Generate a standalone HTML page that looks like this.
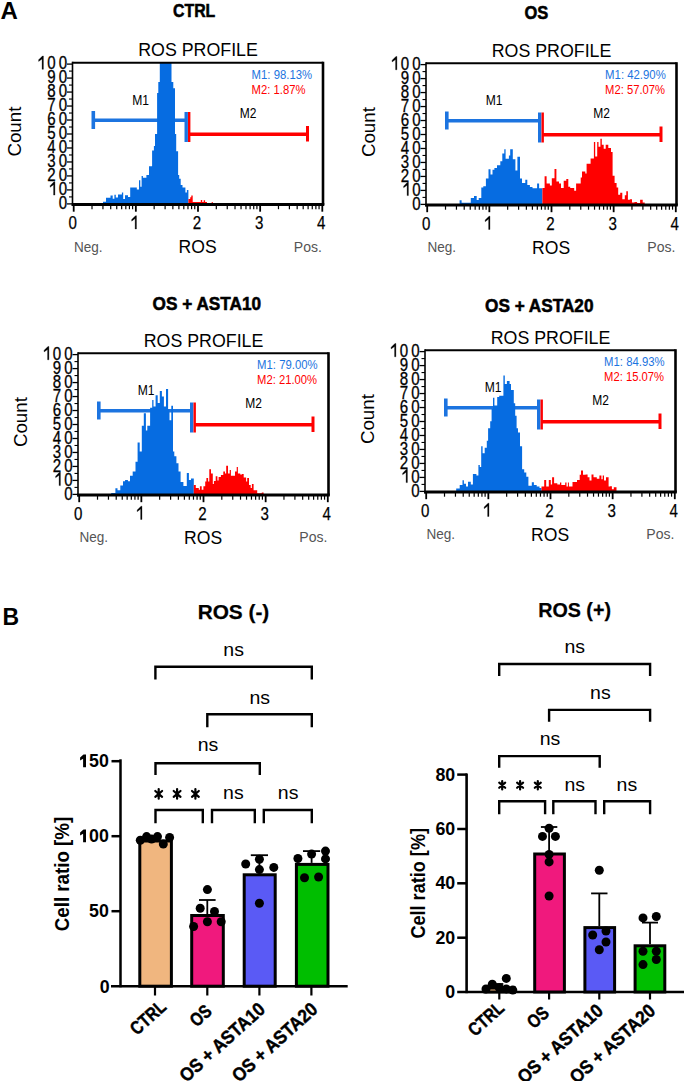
<!DOCTYPE html><html><head><meta charset="utf-8"><style>html,body{margin:0;padding:0;background:#fff;}svg{display:block;font-family:"Liberation Sans",sans-serif;}</style></head><body>
<svg width="685" height="1081" viewBox="0 0 685 1081">
<rect width="685" height="1081" fill="#fff"/>
<text x="0.6" y="18.6" font-size="24" font-weight="bold">A</text>
<text x="2.4" y="624.7" font-size="23" font-weight="bold">B</text>
<text x="173" y="16.9" font-size="18.2" font-weight="bold" textLength="42.3" lengthAdjust="spacingAndGlyphs" stroke="#000" stroke-width="0.55">CTRL</text>
<text x="524.5" y="18.9" font-size="18.2" font-weight="bold" textLength="23.8" lengthAdjust="spacingAndGlyphs" stroke="#000" stroke-width="0.55">OS</text>
<text x="152.6" y="310.4" font-size="18.2" font-weight="bold" textLength="108.5" lengthAdjust="spacingAndGlyphs" stroke="#000" stroke-width="0.55">OS + ASTA10</text>
<text x="485" y="312.1" font-size="18.2" font-weight="bold" textLength="108.5" lengthAdjust="spacingAndGlyphs" stroke="#000" stroke-width="0.55">OS + ASTA20</text>
<g transform="translate(0,0)">
<line x1="93" y1="120.2" x2="186" y2="120.2" stroke="#1c74e0" stroke-width="3.4"/>
<line x1="93.3" y1="111" x2="93.3" y2="129" stroke="#1c74e0" stroke-width="3.6"/>
<line x1="186.2" y1="112" x2="186.2" y2="142" stroke="#1c74e0" stroke-width="3.4"/>
<line x1="189" y1="134.2" x2="307.5" y2="134.2" stroke="#ff0000" stroke-width="3.4"/>
<line x1="189.2" y1="112" x2="189.2" y2="142" stroke="#ff0000" stroke-width="2.4"/>
<line x1="307.5" y1="126" x2="307.5" y2="141.5" stroke="#ff0000" stroke-width="3"/>
<text x="132.3" y="104.7" font-size="14.5" textLength="16.8" lengthAdjust="spacingAndGlyphs">M1</text>
<text x="239.8" y="117.6" font-size="14.5" textLength="16.7" lengthAdjust="spacingAndGlyphs">M2</text>
<text x="251.6" y="78.7" font-size="12.8" textLength="60.5" lengthAdjust="spacingAndGlyphs" fill="#1c74e0">M1: 98.13%</text>
<text x="251.6" y="93.5" font-size="12.8" textLength="54" lengthAdjust="spacingAndGlyphs" fill="#ff0000">M2: 1.87%</text>
</g>
<g transform="translate(353.5,0.5)">
<line x1="93" y1="120.2" x2="186" y2="120.2" stroke="#1c74e0" stroke-width="3.4"/>
<line x1="93.3" y1="111" x2="93.3" y2="129" stroke="#1c74e0" stroke-width="3.6"/>
<line x1="186.2" y1="112" x2="186.2" y2="142" stroke="#1c74e0" stroke-width="3.4"/>
<line x1="189" y1="134.2" x2="307.5" y2="134.2" stroke="#ff0000" stroke-width="3.4"/>
<line x1="189.2" y1="112" x2="189.2" y2="142" stroke="#ff0000" stroke-width="2.4"/>
<line x1="307.5" y1="126" x2="307.5" y2="141.5" stroke="#ff0000" stroke-width="3"/>
<text x="132.3" y="104.7" font-size="14.5" textLength="16.8" lengthAdjust="spacingAndGlyphs">M1</text>
<text x="239.8" y="117.6" font-size="14.5" textLength="16.7" lengthAdjust="spacingAndGlyphs">M2</text>
<text x="251.6" y="78.7" font-size="12.8" textLength="60.7" lengthAdjust="spacingAndGlyphs" fill="#1c74e0">M1: 42.90%</text>
<text x="251.6" y="93.5" font-size="12.8" textLength="60" lengthAdjust="spacingAndGlyphs" fill="#ff0000">M2: 57.07%</text>
</g>
<g transform="translate(5.5,290.5)">
<line x1="93" y1="120.2" x2="186" y2="120.2" stroke="#1c74e0" stroke-width="3.4"/>
<line x1="93.3" y1="111" x2="93.3" y2="129" stroke="#1c74e0" stroke-width="3.6"/>
<line x1="186.2" y1="112" x2="186.2" y2="142" stroke="#1c74e0" stroke-width="3.4"/>
<line x1="189" y1="134.2" x2="307.5" y2="134.2" stroke="#ff0000" stroke-width="3.4"/>
<line x1="189.2" y1="112" x2="189.2" y2="142" stroke="#ff0000" stroke-width="2.4"/>
<line x1="307.5" y1="126" x2="307.5" y2="141.5" stroke="#ff0000" stroke-width="3"/>
<text x="132.3" y="104.7" font-size="14.5" textLength="16.8" lengthAdjust="spacingAndGlyphs">M1</text>
<text x="239.8" y="117.6" font-size="14.5" textLength="16.7" lengthAdjust="spacingAndGlyphs">M2</text>
<text x="251.6" y="78.7" font-size="12.8" textLength="60.5" lengthAdjust="spacingAndGlyphs" fill="#1c74e0">M1: 79.00%</text>
<text x="251.6" y="93.5" font-size="12.8" textLength="60" lengthAdjust="spacingAndGlyphs" fill="#ff0000">M2: 21.00%</text>
</g>
<g transform="translate(352.5,287.5)">
<line x1="93" y1="120.2" x2="186" y2="120.2" stroke="#1c74e0" stroke-width="3.4"/>
<line x1="93.3" y1="111" x2="93.3" y2="129" stroke="#1c74e0" stroke-width="3.6"/>
<line x1="186.2" y1="112" x2="186.2" y2="142" stroke="#1c74e0" stroke-width="3.4"/>
<line x1="189" y1="134.2" x2="307.5" y2="134.2" stroke="#ff0000" stroke-width="3.4"/>
<line x1="189.2" y1="112" x2="189.2" y2="142" stroke="#ff0000" stroke-width="2.4"/>
<line x1="307.5" y1="126" x2="307.5" y2="141.5" stroke="#ff0000" stroke-width="3"/>
<text x="132.3" y="104.7" font-size="14.5" textLength="16.8" lengthAdjust="spacingAndGlyphs">M1</text>
<text x="239.8" y="117.6" font-size="14.5" textLength="16.7" lengthAdjust="spacingAndGlyphs">M2</text>
<text x="251.6" y="78.7" font-size="12.8" textLength="60.5" lengthAdjust="spacingAndGlyphs" fill="#1c74e0">M1: 84.93%</text>
<text x="251.6" y="93.5" font-size="12.8" textLength="60" lengthAdjust="spacingAndGlyphs" fill="#ff0000">M2: 15.07%</text>
</g>
<path d="M103,203.5L103,201.7L106,201.7L106,197.7L110.5,197.7L110.5,195.6L112.7,195.6L112.7,198.7L114.4,198.7L114.4,194.7L115.8,194.7L115.8,197.5L118,197.5L118,194.5L121.9,194.5L121.9,192.5L123.2,192.5L123.2,199.1L125,199.1L125,195.2L128,195.2L128,197L130.2,197L130.2,187.5L136.8,187.5L136.8,189.5L139,189.5L139,180.3L140.3,180.3L140.3,186.8L141.6,186.8L141.6,175.9L142.9,175.9L142.9,177.8L146.4,177.8L146.4,175L149,175L149,166.3L152.1,166.3L152.1,150.5L153.9,150.5L153.9,146.1L155,146.1L155,134L157.1,134L157.1,92.9L158.3,92.9L158.3,82L159.8,82L159.8,62.9L171.5,62.9L171.5,82L173.3,82L173.3,88.3L175,88.3L175,134L176.2,134L176.2,151.3L178.1,151.3L178.1,175L179.2,175L179.2,178.7L180.7,178.7L180.7,184.9L182.5,184.9L182.5,187.4L185.4,187.4L185.4,192.6L186.9,192.6L186.9,190L188.4,190L188.4,203.5Z" fill="#066ce1"/>
<path d="M188.4,203.5L188.4,199.1L190.2,199.1L190.2,197.3L191.3,197.3L191.3,195.5L192.7,195.5L192.7,202L200.8,202L200.8,199.9L202.2,199.9L202.2,202L203.7,202L203.7,200.2L205.1,200.2L205.1,202L207,202L207,203.5Z" fill="#ff0000"/>
<path d="M211.7,203.5L211.7,202L212.8,202L212.8,203.5Z" fill="#ff0000"/>
<path d="M459.6,204L459.6,200.3L461.6,200.3L461.6,202.7L470.8,202.7L470.8,198L474,198L474,196.1L476.7,196.1L476.7,200L478.7,200L478.7,198L481.3,198L481.3,187.6L483.3,187.6L483.3,186.2L485.9,186.2L485.9,178.4L488.5,178.4L488.5,169.2L490.5,169.2L490.5,174.4L492.5,174.4L492.5,169.8L494.4,169.8L494.4,167.9L497,167.9L497,165.2L500.3,165.2L500.3,161.3L502.3,161.3L502.3,153.4L504.3,153.4L504.3,149.2L505.6,149.2L505.6,158.7L508.9,158.7L508.9,155.4L510.2,155.4L510.2,149.2L512.8,149.2L512.8,159.3L515.4,159.3L515.4,170.5L517.4,170.5L517.4,156.7L520,156.7L520,178.4L522,178.4L522,183L525.3,183L525.3,179.7L527.3,179.7L527.3,184.9L529.9,184.9L529.9,186.9L532.5,186.9L532.5,188.2L537.1,188.2L537.1,183.6L539.1,183.6L539.1,188.2L542.4,188.2L542.4,204Z" fill="#066ce1"/>
<path d="M542.4,204L542.4,188.1L544.6,188.1L544.6,176.2L546.6,176.2L546.6,183.5L549.9,183.5L549.9,185.4L551.8,185.4L551.8,178.2L554.5,178.2L554.5,169L556.4,169L556.4,181.5L559,181.5L559,183.5L561,183.5L561,188.1L563.7,188.1L563.7,180.8L566.3,180.8L566.3,178.9L568.3,178.9L568.3,186.8L570.2,186.8L570.2,188.1L574.2,188.1L574.2,190.7L576.1,190.7L576.1,183.5L580.7,183.5L580.7,177.6L582,177.6L582,171.6L585.3,171.6L585.3,173.6L586.6,173.6L586.6,163.8L590.6,163.8L590.6,158.5L593.9,158.5L593.9,142.1L595.2,142.1L595.2,156.5L597.2,156.5L597.2,142.1L598.5,142.1L598.5,146.7L600.4,146.7L600.4,138.8L601.8,138.8L601.8,144.7L603.7,144.7L603.7,148.7L605.7,148.7L605.7,144.7L608.3,144.7L608.3,148L611,148L611,151.9L612.6,151.9L612.6,175.8L614.6,175.8L614.6,183L616.6,183L616.6,187.6L618.2,187.6L618.2,194.7L620.2,194.7L620.2,192.7L622.3,192.7L622.3,199.3L624.8,199.3L624.8,195.2L626.3,195.2L626.3,191.2L627.9,191.2L627.9,199.8L629.9,199.8L629.9,199.3L632,199.3L632,202.4L634.5,202.4L634.5,201.9L637.1,201.9L637.1,203L640.1,203L640.1,199.8L642.7,199.8L642.7,202.4L644.7,202.4L644.7,204Z" fill="#ff0000"/>
<path d="M111.2,494.5L111.2,493L115.4,493L115.4,488.2L117.5,488.2L117.5,490.3L120.3,490.3L120.3,485.4L123,485.4L123,481.2L125.1,481.2L125.1,479.9L127.9,479.9L127.9,481.2L130,481.2L130,475.7L132.7,475.7L132.7,471.5L135.5,471.5L135.5,461.8L137.6,461.8L137.6,442.4L139.7,442.4L139.7,451.4L141.8,451.4L141.8,425.8L143.8,425.8L143.8,413.3L145.9,413.3L145.9,430.6L147.3,430.6L147.3,425.8L150.1,425.8L150.1,407.7L152.2,407.7L152.2,400.1L153.5,400.1L153.5,406.4L155.6,406.4L155.6,395.3L157.7,395.3L157.7,402.9L159.8,402.9L159.8,391.1L161.9,391.1L161.9,396.6L163.9,396.6L163.9,406.4L166,406.4L166,389L168.1,389L168.1,409.1L169.5,409.1L169.5,420.2L171.3,420.2L171.3,405.7L173,405.7L173,451.4L174.3,451.4L174.3,456.3L176.4,456.3L176.4,463.2L178.5,463.2L178.5,471.5L180.6,471.5L180.6,481.9L183.4,481.9L183.4,486.1L186.8,486.1L186.8,472.9L188.9,472.9L188.9,479.9L191,479.9L191,478.5L193.8,478.5L193.8,494.5Z" fill="#066ce1"/>
<path d="M193.8,494.5L193.8,485L195.8,485L195.8,488L198.8,488L198.8,489.7L199.9,489.7L199.9,486.2L201.7,486.2L201.7,489.7L203.4,489.7L203.4,486.2L205.2,486.2L205.2,481.5L206.4,481.5L206.4,478L208.1,478L208.1,481.5L209.3,481.5L209.3,469.3L211,469.3L211,473.4L212.8,473.4L212.8,483.9L213.9,483.9L213.9,481L215.7,481L215.7,476.3L217.4,476.3L217.4,480.4L218.6,480.4L218.6,476.9L220.9,476.9L220.9,475.1L223.3,475.1L223.3,471.6L225,471.6L225,473.4L226.2,473.4L226.2,465.8L228,465.8L228,473.4L229.7,473.4L229.7,469.9L230.9,469.9L230.9,475.7L235,475.7L235,471.6L236.7,471.6L236.7,466.9L237.9,466.9L237.9,473.4L240.2,473.4L240.2,474.5L242,474.5L242,473.9L243.7,473.9L243.7,477.4L246.1,477.4L246.1,481.5L247.2,481.5L247.2,478L249,478L249,485L250.7,485L250.7,488L251.9,488L251.9,483.9L253.6,483.9L253.6,490.3L257.2,490.3L257.2,493.2L261.8,493.2L261.8,492.5L263.6,492.5L263.6,494.5Z" fill="#ff0000"/>
<path d="M456.2,491L456.2,488.6L459.7,488.6L459.7,485.1L462.5,485.1L462.5,480.3L463.9,480.3L463.9,483.7L466,483.7L466,486.5L468,486.5L468,481.7L470.8,481.7L470.8,484.4L472.9,484.4L472.9,474L476.4,474L476.4,475.4L478.4,475.4L478.4,465L479.8,465L479.8,467.1L481.2,467.1L481.2,446.3L482.6,446.3L482.6,453.2L484.7,453.2L484.7,447.7L486.8,447.7L486.8,440.7L488.1,440.7L488.1,428.3L490.2,428.3L490.2,421.3L491.6,421.3L491.6,408.8L493,408.8L493,397.7L494.4,397.7L494.4,405.4L497.2,405.4L497.2,397L499.2,397L499.2,395.7L503.4,395.7L503.4,375.5L504.8,375.5L504.8,383.9L506.9,383.9L506.9,381.1L509.6,381.1L509.6,383.9L511,383.9L511,390.1L513.8,390.1L513.8,403.3L515.2,403.3L515.2,415.8L516.6,415.8L516.6,428.3L518,428.3L518,432.4L520,432.4L520,446.3L522.1,446.3L522.1,469.2L524.2,469.2L524.2,472.6L526.3,472.6L526.3,476.8L528.4,476.8L528.4,485.8L531.8,485.8L531.8,482.3L533.9,482.3L533.9,485.1L536.7,485.1L536.7,486.5L539.5,486.5L539.5,487.9L541.5,487.9L541.5,491Z" fill="#066ce1"/>
<path d="M541.5,491L541.5,486.5L544.2,486.5L544.2,480L546.2,480L546.2,486.5L548.8,486.5L548.8,480L550.8,480L550.8,484.6L552.1,484.6L552.1,477.3L554.1,477.3L554.1,483.3L557.3,483.3L557.3,484.6L560,484.6L560,482.6L561.3,482.6L561.3,485L565.2,485L565.2,482.6L566.5,482.6L566.5,486.5L567.9,486.5L567.9,482.6L568.9,482.6L568.9,486.5L572.5,486.5L572.5,481.9L577,481.9L577,480L579.7,480L579.7,474.7L581,474.7L581,470.5L583,470.5L583,474.7L585.6,474.7L585.6,474.4L587.6,474.4L587.6,477.3L589.5,477.3L589.5,480.6L591.5,480.6L591.5,474.4L593.5,474.4L593.5,477.3L596.8,477.3L596.8,478.7L599.4,478.7L599.4,475.4L601.4,475.4L601.4,479.3L602.7,479.3L602.7,475.4L604,475.4L604,480.6L606,480.6L606,477.3L608.6,477.3L608.6,486.5L609.9,486.5L609.9,486.3L611.9,486.3L611.9,489.2L613.8,489.2L613.8,487.2L616.5,487.2L616.5,491Z" fill="#ff0000"/>
<g transform="translate(0,0)">
<text x="138.2" y="56" font-size="19.2" textLength="119.7" lengthAdjust="spacingAndGlyphs">ROS PROFILE</text>
<text transform="translate(21.1,131.6) rotate(-90)" font-size="18.6" text-anchor="middle" textLength="50" lengthAdjust="spacingAndGlyphs">Count</text>
<line x1="67" y1="203.90" x2="72.5" y2="203.90" stroke="#000" stroke-width="1.3"/>
<line x1="69" y1="196.91" x2="72.5" y2="196.91" stroke="#000" stroke-width="1.1"/>
<text transform="translate(70.3,209.10) scale(0.81,1)" font-size="18.6" text-anchor="end" letter-spacing="3.86" stroke="#000" stroke-width="0.3">0</text>
<line x1="67" y1="189.92" x2="72.5" y2="189.92" stroke="#000" stroke-width="1.3"/>
<line x1="69" y1="182.93" x2="72.5" y2="182.93" stroke="#000" stroke-width="1.1"/>
<polygon points="54.91,195.12 53.59,195.12 53.59,184.70 50.12,187.25 50.12,185.67 53.96,181.80 54.91,181.80" fill="#000" stroke="#000" stroke-width="0.3" stroke-linejoin="round"/>
<text transform="translate(70.3,195.12) scale(0.81,1)" font-size="18.6" text-anchor="end" letter-spacing="3.86" stroke="#000" stroke-width="0.3">0</text>
<line x1="67" y1="175.94" x2="72.5" y2="175.94" stroke="#000" stroke-width="1.3"/>
<line x1="69" y1="168.95" x2="72.5" y2="168.95" stroke="#000" stroke-width="1.1"/>
<text transform="translate(70.3,181.14) scale(0.81,1)" font-size="18.6" text-anchor="end" letter-spacing="3.86" stroke="#000" stroke-width="0.3">20</text>
<line x1="67" y1="161.96" x2="72.5" y2="161.96" stroke="#000" stroke-width="1.3"/>
<line x1="69" y1="154.97" x2="72.5" y2="154.97" stroke="#000" stroke-width="1.1"/>
<text transform="translate(70.3,167.16) scale(0.81,1)" font-size="18.6" text-anchor="end" letter-spacing="3.86" stroke="#000" stroke-width="0.3">30</text>
<line x1="67" y1="147.98" x2="72.5" y2="147.98" stroke="#000" stroke-width="1.3"/>
<line x1="69" y1="140.99" x2="72.5" y2="140.99" stroke="#000" stroke-width="1.1"/>
<text transform="translate(70.3,153.18) scale(0.81,1)" font-size="18.6" text-anchor="end" letter-spacing="3.86" stroke="#000" stroke-width="0.3">40</text>
<line x1="67" y1="134.00" x2="72.5" y2="134.00" stroke="#000" stroke-width="1.3"/>
<line x1="69" y1="127.01" x2="72.5" y2="127.01" stroke="#000" stroke-width="1.1"/>
<text transform="translate(70.3,139.20) scale(0.81,1)" font-size="18.6" text-anchor="end" letter-spacing="3.86" stroke="#000" stroke-width="0.3">50</text>
<line x1="67" y1="120.02" x2="72.5" y2="120.02" stroke="#000" stroke-width="1.3"/>
<line x1="69" y1="113.03" x2="72.5" y2="113.03" stroke="#000" stroke-width="1.1"/>
<text transform="translate(70.3,125.22) scale(0.81,1)" font-size="18.6" text-anchor="end" letter-spacing="3.86" stroke="#000" stroke-width="0.3">60</text>
<line x1="67" y1="106.04" x2="72.5" y2="106.04" stroke="#000" stroke-width="1.3"/>
<line x1="69" y1="99.05" x2="72.5" y2="99.05" stroke="#000" stroke-width="1.1"/>
<text transform="translate(70.3,111.24) scale(0.81,1)" font-size="18.6" text-anchor="end" letter-spacing="3.86" stroke="#000" stroke-width="0.3">70</text>
<line x1="67" y1="92.06" x2="72.5" y2="92.06" stroke="#000" stroke-width="1.3"/>
<line x1="69" y1="85.07" x2="72.5" y2="85.07" stroke="#000" stroke-width="1.1"/>
<text transform="translate(70.3,97.26) scale(0.81,1)" font-size="18.6" text-anchor="end" letter-spacing="3.86" stroke="#000" stroke-width="0.3">80</text>
<line x1="67" y1="78.08" x2="72.5" y2="78.08" stroke="#000" stroke-width="1.3"/>
<line x1="69" y1="71.09" x2="72.5" y2="71.09" stroke="#000" stroke-width="1.1"/>
<text transform="translate(70.3,83.28) scale(0.81,1)" font-size="18.6" text-anchor="end" letter-spacing="3.86" stroke="#000" stroke-width="0.3">90</text>
<line x1="67" y1="64.10" x2="72.5" y2="64.10" stroke="#000" stroke-width="1.3"/>
<polygon points="43.41,69.30 42.08,69.30 42.08,58.88 38.62,61.43 38.62,59.85 42.46,55.98 43.41,55.98" fill="#000" stroke="#000" stroke-width="0.3" stroke-linejoin="round"/>
<text transform="translate(70.3,69.30) scale(0.81,1)" font-size="18.6" text-anchor="end" letter-spacing="3.86" stroke="#000" stroke-width="0.3">00</text>
<line x1="73.70" y1="205" x2="73.70" y2="211.7" stroke="#000" stroke-width="1.8"/>
<text x="72.70" y="229" font-size="18.6" text-anchor="middle" textLength="8.4" lengthAdjust="spacingAndGlyphs" stroke="#000" stroke-width="0.25">0</text>
<line x1="92.01" y1="205" x2="92.01" y2="209.2" stroke="#000" stroke-width="1.2"/>
<line x1="102.95" y1="205" x2="102.95" y2="209.2" stroke="#000" stroke-width="1.2"/>
<line x1="110.72" y1="205" x2="110.72" y2="209.2" stroke="#000" stroke-width="1.2"/>
<line x1="116.74" y1="205" x2="116.74" y2="209.2" stroke="#000" stroke-width="1.2"/>
<line x1="121.66" y1="205" x2="121.66" y2="209.2" stroke="#000" stroke-width="1.2"/>
<line x1="125.82" y1="205" x2="125.82" y2="209.2" stroke="#000" stroke-width="1.2"/>
<line x1="129.43" y1="205" x2="129.43" y2="209.2" stroke="#000" stroke-width="1.2"/>
<line x1="132.61" y1="205" x2="132.61" y2="209.2" stroke="#000" stroke-width="1.2"/>
<line x1="135.85" y1="205" x2="135.85" y2="211.7" stroke="#000" stroke-width="1.8"/>
<polygon points="136.47,229.00 135.14,229.00 135.14,218.58 131.68,221.13 131.68,219.55 135.52,215.68 136.47,215.68" fill="#000" stroke="#000" stroke-width="0.3" stroke-linejoin="round"/>
<line x1="154.16" y1="205" x2="154.16" y2="209.2" stroke="#000" stroke-width="1.2"/>
<line x1="165.10" y1="205" x2="165.10" y2="209.2" stroke="#000" stroke-width="1.2"/>
<line x1="172.87" y1="205" x2="172.87" y2="209.2" stroke="#000" stroke-width="1.2"/>
<line x1="178.89" y1="205" x2="178.89" y2="209.2" stroke="#000" stroke-width="1.2"/>
<line x1="183.81" y1="205" x2="183.81" y2="209.2" stroke="#000" stroke-width="1.2"/>
<line x1="187.97" y1="205" x2="187.97" y2="209.2" stroke="#000" stroke-width="1.2"/>
<line x1="191.58" y1="205" x2="191.58" y2="209.2" stroke="#000" stroke-width="1.2"/>
<line x1="194.76" y1="205" x2="194.76" y2="209.2" stroke="#000" stroke-width="1.2"/>
<line x1="198.00" y1="205" x2="198.00" y2="211.7" stroke="#000" stroke-width="1.8"/>
<text x="197.00" y="229" font-size="18.6" text-anchor="middle" textLength="8.4" lengthAdjust="spacingAndGlyphs" stroke="#000" stroke-width="0.25">2</text>
<line x1="216.31" y1="205" x2="216.31" y2="209.2" stroke="#000" stroke-width="1.2"/>
<line x1="227.25" y1="205" x2="227.25" y2="209.2" stroke="#000" stroke-width="1.2"/>
<line x1="235.02" y1="205" x2="235.02" y2="209.2" stroke="#000" stroke-width="1.2"/>
<line x1="241.04" y1="205" x2="241.04" y2="209.2" stroke="#000" stroke-width="1.2"/>
<line x1="245.96" y1="205" x2="245.96" y2="209.2" stroke="#000" stroke-width="1.2"/>
<line x1="250.12" y1="205" x2="250.12" y2="209.2" stroke="#000" stroke-width="1.2"/>
<line x1="253.73" y1="205" x2="253.73" y2="209.2" stroke="#000" stroke-width="1.2"/>
<line x1="256.91" y1="205" x2="256.91" y2="209.2" stroke="#000" stroke-width="1.2"/>
<line x1="260.15" y1="205" x2="260.15" y2="211.7" stroke="#000" stroke-width="1.8"/>
<text x="259.15" y="229" font-size="18.6" text-anchor="middle" textLength="8.4" lengthAdjust="spacingAndGlyphs" stroke="#000" stroke-width="0.25">3</text>
<line x1="278.46" y1="205" x2="278.46" y2="209.2" stroke="#000" stroke-width="1.2"/>
<line x1="289.40" y1="205" x2="289.40" y2="209.2" stroke="#000" stroke-width="1.2"/>
<line x1="297.17" y1="205" x2="297.17" y2="209.2" stroke="#000" stroke-width="1.2"/>
<line x1="303.19" y1="205" x2="303.19" y2="209.2" stroke="#000" stroke-width="1.2"/>
<line x1="308.11" y1="205" x2="308.11" y2="209.2" stroke="#000" stroke-width="1.2"/>
<line x1="312.27" y1="205" x2="312.27" y2="209.2" stroke="#000" stroke-width="1.2"/>
<line x1="315.88" y1="205" x2="315.88" y2="209.2" stroke="#000" stroke-width="1.2"/>
<line x1="319.06" y1="205" x2="319.06" y2="209.2" stroke="#000" stroke-width="1.2"/>
<line x1="322.30" y1="205" x2="322.30" y2="211.7" stroke="#000" stroke-width="1.8"/>
<text x="321.30" y="229" font-size="18.6" text-anchor="middle" textLength="8.4" lengthAdjust="spacingAndGlyphs" stroke="#000" stroke-width="0.25">4</text>
<text x="73.9" y="251.5" font-size="14" textLength="28.6" lengthAdjust="spacingAndGlyphs" fill="#555">Neg.</text>
<text x="178.6" y="253.3" font-size="18" textLength="38.1" lengthAdjust="spacingAndGlyphs">ROS</text>
<text x="293.8" y="251.9" font-size="14" textLength="28.1" lengthAdjust="spacingAndGlyphs" fill="#555">Pos.</text>
<line x1="72.5" y1="62.7" x2="323" y2="62.7" stroke="#000" stroke-width="2"/>
<line x1="323" y1="61.7" x2="323" y2="205" stroke="#000" stroke-width="2.6"/>
<line x1="72.5" y1="61.7" x2="72.5" y2="206" stroke="#000" stroke-width="1.6"/>
<line x1="71.7" y1="204.6" x2="324.3" y2="204.6" stroke="#000" stroke-width="3"/>
</g>
<g transform="translate(353.5,0.5)">
<text x="138.2" y="56" font-size="19.2" textLength="119.7" lengthAdjust="spacingAndGlyphs">ROS PROFILE</text>
<text transform="translate(21.1,131.6) rotate(-90)" font-size="18.6" text-anchor="middle" textLength="50" lengthAdjust="spacingAndGlyphs">Count</text>
<line x1="67" y1="203.90" x2="72.5" y2="203.90" stroke="#000" stroke-width="1.3"/>
<line x1="69" y1="196.91" x2="72.5" y2="196.91" stroke="#000" stroke-width="1.1"/>
<text transform="translate(70.3,209.10) scale(0.81,1)" font-size="18.6" text-anchor="end" letter-spacing="3.86" stroke="#000" stroke-width="0.3">0</text>
<line x1="67" y1="189.92" x2="72.5" y2="189.92" stroke="#000" stroke-width="1.3"/>
<line x1="69" y1="182.93" x2="72.5" y2="182.93" stroke="#000" stroke-width="1.1"/>
<polygon points="54.91,195.12 53.59,195.12 53.59,184.70 50.12,187.25 50.12,185.67 53.96,181.80 54.91,181.80" fill="#000" stroke="#000" stroke-width="0.3" stroke-linejoin="round"/>
<text transform="translate(70.3,195.12) scale(0.81,1)" font-size="18.6" text-anchor="end" letter-spacing="3.86" stroke="#000" stroke-width="0.3">0</text>
<line x1="67" y1="175.94" x2="72.5" y2="175.94" stroke="#000" stroke-width="1.3"/>
<line x1="69" y1="168.95" x2="72.5" y2="168.95" stroke="#000" stroke-width="1.1"/>
<text transform="translate(70.3,181.14) scale(0.81,1)" font-size="18.6" text-anchor="end" letter-spacing="3.86" stroke="#000" stroke-width="0.3">20</text>
<line x1="67" y1="161.96" x2="72.5" y2="161.96" stroke="#000" stroke-width="1.3"/>
<line x1="69" y1="154.97" x2="72.5" y2="154.97" stroke="#000" stroke-width="1.1"/>
<text transform="translate(70.3,167.16) scale(0.81,1)" font-size="18.6" text-anchor="end" letter-spacing="3.86" stroke="#000" stroke-width="0.3">30</text>
<line x1="67" y1="147.98" x2="72.5" y2="147.98" stroke="#000" stroke-width="1.3"/>
<line x1="69" y1="140.99" x2="72.5" y2="140.99" stroke="#000" stroke-width="1.1"/>
<text transform="translate(70.3,153.18) scale(0.81,1)" font-size="18.6" text-anchor="end" letter-spacing="3.86" stroke="#000" stroke-width="0.3">40</text>
<line x1="67" y1="134.00" x2="72.5" y2="134.00" stroke="#000" stroke-width="1.3"/>
<line x1="69" y1="127.01" x2="72.5" y2="127.01" stroke="#000" stroke-width="1.1"/>
<text transform="translate(70.3,139.20) scale(0.81,1)" font-size="18.6" text-anchor="end" letter-spacing="3.86" stroke="#000" stroke-width="0.3">50</text>
<line x1="67" y1="120.02" x2="72.5" y2="120.02" stroke="#000" stroke-width="1.3"/>
<line x1="69" y1="113.03" x2="72.5" y2="113.03" stroke="#000" stroke-width="1.1"/>
<text transform="translate(70.3,125.22) scale(0.81,1)" font-size="18.6" text-anchor="end" letter-spacing="3.86" stroke="#000" stroke-width="0.3">60</text>
<line x1="67" y1="106.04" x2="72.5" y2="106.04" stroke="#000" stroke-width="1.3"/>
<line x1="69" y1="99.05" x2="72.5" y2="99.05" stroke="#000" stroke-width="1.1"/>
<text transform="translate(70.3,111.24) scale(0.81,1)" font-size="18.6" text-anchor="end" letter-spacing="3.86" stroke="#000" stroke-width="0.3">70</text>
<line x1="67" y1="92.06" x2="72.5" y2="92.06" stroke="#000" stroke-width="1.3"/>
<line x1="69" y1="85.07" x2="72.5" y2="85.07" stroke="#000" stroke-width="1.1"/>
<text transform="translate(70.3,97.26) scale(0.81,1)" font-size="18.6" text-anchor="end" letter-spacing="3.86" stroke="#000" stroke-width="0.3">80</text>
<line x1="67" y1="78.08" x2="72.5" y2="78.08" stroke="#000" stroke-width="1.3"/>
<line x1="69" y1="71.09" x2="72.5" y2="71.09" stroke="#000" stroke-width="1.1"/>
<text transform="translate(70.3,83.28) scale(0.81,1)" font-size="18.6" text-anchor="end" letter-spacing="3.86" stroke="#000" stroke-width="0.3">90</text>
<line x1="67" y1="64.10" x2="72.5" y2="64.10" stroke="#000" stroke-width="1.3"/>
<polygon points="43.41,69.30 42.08,69.30 42.08,58.88 38.62,61.43 38.62,59.85 42.46,55.98 43.41,55.98" fill="#000" stroke="#000" stroke-width="0.3" stroke-linejoin="round"/>
<text transform="translate(70.3,69.30) scale(0.81,1)" font-size="18.6" text-anchor="end" letter-spacing="3.86" stroke="#000" stroke-width="0.3">00</text>
<line x1="73.70" y1="205" x2="73.70" y2="211.7" stroke="#000" stroke-width="1.8"/>
<text x="72.70" y="229" font-size="18.6" text-anchor="middle" textLength="8.4" lengthAdjust="spacingAndGlyphs" stroke="#000" stroke-width="0.25">0</text>
<line x1="92.01" y1="205" x2="92.01" y2="209.2" stroke="#000" stroke-width="1.2"/>
<line x1="102.95" y1="205" x2="102.95" y2="209.2" stroke="#000" stroke-width="1.2"/>
<line x1="110.72" y1="205" x2="110.72" y2="209.2" stroke="#000" stroke-width="1.2"/>
<line x1="116.74" y1="205" x2="116.74" y2="209.2" stroke="#000" stroke-width="1.2"/>
<line x1="121.66" y1="205" x2="121.66" y2="209.2" stroke="#000" stroke-width="1.2"/>
<line x1="125.82" y1="205" x2="125.82" y2="209.2" stroke="#000" stroke-width="1.2"/>
<line x1="129.43" y1="205" x2="129.43" y2="209.2" stroke="#000" stroke-width="1.2"/>
<line x1="132.61" y1="205" x2="132.61" y2="209.2" stroke="#000" stroke-width="1.2"/>
<line x1="135.85" y1="205" x2="135.85" y2="211.7" stroke="#000" stroke-width="1.8"/>
<polygon points="136.47,229.00 135.14,229.00 135.14,218.58 131.68,221.13 131.68,219.55 135.52,215.68 136.47,215.68" fill="#000" stroke="#000" stroke-width="0.3" stroke-linejoin="round"/>
<line x1="154.16" y1="205" x2="154.16" y2="209.2" stroke="#000" stroke-width="1.2"/>
<line x1="165.10" y1="205" x2="165.10" y2="209.2" stroke="#000" stroke-width="1.2"/>
<line x1="172.87" y1="205" x2="172.87" y2="209.2" stroke="#000" stroke-width="1.2"/>
<line x1="178.89" y1="205" x2="178.89" y2="209.2" stroke="#000" stroke-width="1.2"/>
<line x1="183.81" y1="205" x2="183.81" y2="209.2" stroke="#000" stroke-width="1.2"/>
<line x1="187.97" y1="205" x2="187.97" y2="209.2" stroke="#000" stroke-width="1.2"/>
<line x1="191.58" y1="205" x2="191.58" y2="209.2" stroke="#000" stroke-width="1.2"/>
<line x1="194.76" y1="205" x2="194.76" y2="209.2" stroke="#000" stroke-width="1.2"/>
<line x1="198.00" y1="205" x2="198.00" y2="211.7" stroke="#000" stroke-width="1.8"/>
<text x="197.00" y="229" font-size="18.6" text-anchor="middle" textLength="8.4" lengthAdjust="spacingAndGlyphs" stroke="#000" stroke-width="0.25">2</text>
<line x1="216.31" y1="205" x2="216.31" y2="209.2" stroke="#000" stroke-width="1.2"/>
<line x1="227.25" y1="205" x2="227.25" y2="209.2" stroke="#000" stroke-width="1.2"/>
<line x1="235.02" y1="205" x2="235.02" y2="209.2" stroke="#000" stroke-width="1.2"/>
<line x1="241.04" y1="205" x2="241.04" y2="209.2" stroke="#000" stroke-width="1.2"/>
<line x1="245.96" y1="205" x2="245.96" y2="209.2" stroke="#000" stroke-width="1.2"/>
<line x1="250.12" y1="205" x2="250.12" y2="209.2" stroke="#000" stroke-width="1.2"/>
<line x1="253.73" y1="205" x2="253.73" y2="209.2" stroke="#000" stroke-width="1.2"/>
<line x1="256.91" y1="205" x2="256.91" y2="209.2" stroke="#000" stroke-width="1.2"/>
<line x1="260.15" y1="205" x2="260.15" y2="211.7" stroke="#000" stroke-width="1.8"/>
<text x="259.15" y="229" font-size="18.6" text-anchor="middle" textLength="8.4" lengthAdjust="spacingAndGlyphs" stroke="#000" stroke-width="0.25">3</text>
<line x1="278.46" y1="205" x2="278.46" y2="209.2" stroke="#000" stroke-width="1.2"/>
<line x1="289.40" y1="205" x2="289.40" y2="209.2" stroke="#000" stroke-width="1.2"/>
<line x1="297.17" y1="205" x2="297.17" y2="209.2" stroke="#000" stroke-width="1.2"/>
<line x1="303.19" y1="205" x2="303.19" y2="209.2" stroke="#000" stroke-width="1.2"/>
<line x1="308.11" y1="205" x2="308.11" y2="209.2" stroke="#000" stroke-width="1.2"/>
<line x1="312.27" y1="205" x2="312.27" y2="209.2" stroke="#000" stroke-width="1.2"/>
<line x1="315.88" y1="205" x2="315.88" y2="209.2" stroke="#000" stroke-width="1.2"/>
<line x1="319.06" y1="205" x2="319.06" y2="209.2" stroke="#000" stroke-width="1.2"/>
<line x1="322.30" y1="205" x2="322.30" y2="211.7" stroke="#000" stroke-width="1.8"/>
<text x="321.30" y="229" font-size="18.6" text-anchor="middle" textLength="8.4" lengthAdjust="spacingAndGlyphs" stroke="#000" stroke-width="0.25">4</text>
<text x="73.9" y="251.5" font-size="14" textLength="28.6" lengthAdjust="spacingAndGlyphs" fill="#555">Neg.</text>
<text x="178.6" y="253.3" font-size="18" textLength="38.1" lengthAdjust="spacingAndGlyphs">ROS</text>
<text x="293.8" y="251.9" font-size="14" textLength="28.1" lengthAdjust="spacingAndGlyphs" fill="#555">Pos.</text>
<line x1="72.5" y1="62.7" x2="323" y2="62.7" stroke="#000" stroke-width="2"/>
<line x1="323" y1="61.7" x2="323" y2="205" stroke="#000" stroke-width="2.6"/>
<line x1="72.5" y1="61.7" x2="72.5" y2="206" stroke="#000" stroke-width="1.6"/>
<line x1="71.7" y1="204.6" x2="324.3" y2="204.6" stroke="#000" stroke-width="3"/>
</g>
<g transform="translate(5.5,290.5)">
<text x="138.2" y="56" font-size="19.2" textLength="119.7" lengthAdjust="spacingAndGlyphs">ROS PROFILE</text>
<text transform="translate(21.1,131.6) rotate(-90)" font-size="18.6" text-anchor="middle" textLength="50" lengthAdjust="spacingAndGlyphs">Count</text>
<line x1="67" y1="203.90" x2="72.5" y2="203.90" stroke="#000" stroke-width="1.3"/>
<line x1="69" y1="196.91" x2="72.5" y2="196.91" stroke="#000" stroke-width="1.1"/>
<text transform="translate(70.3,209.10) scale(0.81,1)" font-size="18.6" text-anchor="end" letter-spacing="3.86" stroke="#000" stroke-width="0.3">0</text>
<line x1="67" y1="189.92" x2="72.5" y2="189.92" stroke="#000" stroke-width="1.3"/>
<line x1="69" y1="182.93" x2="72.5" y2="182.93" stroke="#000" stroke-width="1.1"/>
<polygon points="54.91,195.12 53.59,195.12 53.59,184.70 50.12,187.25 50.12,185.67 53.96,181.80 54.91,181.80" fill="#000" stroke="#000" stroke-width="0.3" stroke-linejoin="round"/>
<text transform="translate(70.3,195.12) scale(0.81,1)" font-size="18.6" text-anchor="end" letter-spacing="3.86" stroke="#000" stroke-width="0.3">0</text>
<line x1="67" y1="175.94" x2="72.5" y2="175.94" stroke="#000" stroke-width="1.3"/>
<line x1="69" y1="168.95" x2="72.5" y2="168.95" stroke="#000" stroke-width="1.1"/>
<text transform="translate(70.3,181.14) scale(0.81,1)" font-size="18.6" text-anchor="end" letter-spacing="3.86" stroke="#000" stroke-width="0.3">20</text>
<line x1="67" y1="161.96" x2="72.5" y2="161.96" stroke="#000" stroke-width="1.3"/>
<line x1="69" y1="154.97" x2="72.5" y2="154.97" stroke="#000" stroke-width="1.1"/>
<text transform="translate(70.3,167.16) scale(0.81,1)" font-size="18.6" text-anchor="end" letter-spacing="3.86" stroke="#000" stroke-width="0.3">30</text>
<line x1="67" y1="147.98" x2="72.5" y2="147.98" stroke="#000" stroke-width="1.3"/>
<line x1="69" y1="140.99" x2="72.5" y2="140.99" stroke="#000" stroke-width="1.1"/>
<text transform="translate(70.3,153.18) scale(0.81,1)" font-size="18.6" text-anchor="end" letter-spacing="3.86" stroke="#000" stroke-width="0.3">40</text>
<line x1="67" y1="134.00" x2="72.5" y2="134.00" stroke="#000" stroke-width="1.3"/>
<line x1="69" y1="127.01" x2="72.5" y2="127.01" stroke="#000" stroke-width="1.1"/>
<text transform="translate(70.3,139.20) scale(0.81,1)" font-size="18.6" text-anchor="end" letter-spacing="3.86" stroke="#000" stroke-width="0.3">50</text>
<line x1="67" y1="120.02" x2="72.5" y2="120.02" stroke="#000" stroke-width="1.3"/>
<line x1="69" y1="113.03" x2="72.5" y2="113.03" stroke="#000" stroke-width="1.1"/>
<text transform="translate(70.3,125.22) scale(0.81,1)" font-size="18.6" text-anchor="end" letter-spacing="3.86" stroke="#000" stroke-width="0.3">60</text>
<line x1="67" y1="106.04" x2="72.5" y2="106.04" stroke="#000" stroke-width="1.3"/>
<line x1="69" y1="99.05" x2="72.5" y2="99.05" stroke="#000" stroke-width="1.1"/>
<text transform="translate(70.3,111.24) scale(0.81,1)" font-size="18.6" text-anchor="end" letter-spacing="3.86" stroke="#000" stroke-width="0.3">70</text>
<line x1="67" y1="92.06" x2="72.5" y2="92.06" stroke="#000" stroke-width="1.3"/>
<line x1="69" y1="85.07" x2="72.5" y2="85.07" stroke="#000" stroke-width="1.1"/>
<text transform="translate(70.3,97.26) scale(0.81,1)" font-size="18.6" text-anchor="end" letter-spacing="3.86" stroke="#000" stroke-width="0.3">80</text>
<line x1="67" y1="78.08" x2="72.5" y2="78.08" stroke="#000" stroke-width="1.3"/>
<line x1="69" y1="71.09" x2="72.5" y2="71.09" stroke="#000" stroke-width="1.1"/>
<text transform="translate(70.3,83.28) scale(0.81,1)" font-size="18.6" text-anchor="end" letter-spacing="3.86" stroke="#000" stroke-width="0.3">90</text>
<line x1="67" y1="64.10" x2="72.5" y2="64.10" stroke="#000" stroke-width="1.3"/>
<polygon points="43.41,69.30 42.08,69.30 42.08,58.88 38.62,61.43 38.62,59.85 42.46,55.98 43.41,55.98" fill="#000" stroke="#000" stroke-width="0.3" stroke-linejoin="round"/>
<text transform="translate(70.3,69.30) scale(0.81,1)" font-size="18.6" text-anchor="end" letter-spacing="3.86" stroke="#000" stroke-width="0.3">00</text>
<line x1="73.70" y1="205" x2="73.70" y2="211.7" stroke="#000" stroke-width="1.8"/>
<text x="72.70" y="229" font-size="18.6" text-anchor="middle" textLength="8.4" lengthAdjust="spacingAndGlyphs" stroke="#000" stroke-width="0.25">0</text>
<line x1="92.01" y1="205" x2="92.01" y2="209.2" stroke="#000" stroke-width="1.2"/>
<line x1="102.95" y1="205" x2="102.95" y2="209.2" stroke="#000" stroke-width="1.2"/>
<line x1="110.72" y1="205" x2="110.72" y2="209.2" stroke="#000" stroke-width="1.2"/>
<line x1="116.74" y1="205" x2="116.74" y2="209.2" stroke="#000" stroke-width="1.2"/>
<line x1="121.66" y1="205" x2="121.66" y2="209.2" stroke="#000" stroke-width="1.2"/>
<line x1="125.82" y1="205" x2="125.82" y2="209.2" stroke="#000" stroke-width="1.2"/>
<line x1="129.43" y1="205" x2="129.43" y2="209.2" stroke="#000" stroke-width="1.2"/>
<line x1="132.61" y1="205" x2="132.61" y2="209.2" stroke="#000" stroke-width="1.2"/>
<line x1="135.85" y1="205" x2="135.85" y2="211.7" stroke="#000" stroke-width="1.8"/>
<polygon points="136.47,229.00 135.14,229.00 135.14,218.58 131.68,221.13 131.68,219.55 135.52,215.68 136.47,215.68" fill="#000" stroke="#000" stroke-width="0.3" stroke-linejoin="round"/>
<line x1="154.16" y1="205" x2="154.16" y2="209.2" stroke="#000" stroke-width="1.2"/>
<line x1="165.10" y1="205" x2="165.10" y2="209.2" stroke="#000" stroke-width="1.2"/>
<line x1="172.87" y1="205" x2="172.87" y2="209.2" stroke="#000" stroke-width="1.2"/>
<line x1="178.89" y1="205" x2="178.89" y2="209.2" stroke="#000" stroke-width="1.2"/>
<line x1="183.81" y1="205" x2="183.81" y2="209.2" stroke="#000" stroke-width="1.2"/>
<line x1="187.97" y1="205" x2="187.97" y2="209.2" stroke="#000" stroke-width="1.2"/>
<line x1="191.58" y1="205" x2="191.58" y2="209.2" stroke="#000" stroke-width="1.2"/>
<line x1="194.76" y1="205" x2="194.76" y2="209.2" stroke="#000" stroke-width="1.2"/>
<line x1="198.00" y1="205" x2="198.00" y2="211.7" stroke="#000" stroke-width="1.8"/>
<text x="197.00" y="229" font-size="18.6" text-anchor="middle" textLength="8.4" lengthAdjust="spacingAndGlyphs" stroke="#000" stroke-width="0.25">2</text>
<line x1="216.31" y1="205" x2="216.31" y2="209.2" stroke="#000" stroke-width="1.2"/>
<line x1="227.25" y1="205" x2="227.25" y2="209.2" stroke="#000" stroke-width="1.2"/>
<line x1="235.02" y1="205" x2="235.02" y2="209.2" stroke="#000" stroke-width="1.2"/>
<line x1="241.04" y1="205" x2="241.04" y2="209.2" stroke="#000" stroke-width="1.2"/>
<line x1="245.96" y1="205" x2="245.96" y2="209.2" stroke="#000" stroke-width="1.2"/>
<line x1="250.12" y1="205" x2="250.12" y2="209.2" stroke="#000" stroke-width="1.2"/>
<line x1="253.73" y1="205" x2="253.73" y2="209.2" stroke="#000" stroke-width="1.2"/>
<line x1="256.91" y1="205" x2="256.91" y2="209.2" stroke="#000" stroke-width="1.2"/>
<line x1="260.15" y1="205" x2="260.15" y2="211.7" stroke="#000" stroke-width="1.8"/>
<text x="259.15" y="229" font-size="18.6" text-anchor="middle" textLength="8.4" lengthAdjust="spacingAndGlyphs" stroke="#000" stroke-width="0.25">3</text>
<line x1="278.46" y1="205" x2="278.46" y2="209.2" stroke="#000" stroke-width="1.2"/>
<line x1="289.40" y1="205" x2="289.40" y2="209.2" stroke="#000" stroke-width="1.2"/>
<line x1="297.17" y1="205" x2="297.17" y2="209.2" stroke="#000" stroke-width="1.2"/>
<line x1="303.19" y1="205" x2="303.19" y2="209.2" stroke="#000" stroke-width="1.2"/>
<line x1="308.11" y1="205" x2="308.11" y2="209.2" stroke="#000" stroke-width="1.2"/>
<line x1="312.27" y1="205" x2="312.27" y2="209.2" stroke="#000" stroke-width="1.2"/>
<line x1="315.88" y1="205" x2="315.88" y2="209.2" stroke="#000" stroke-width="1.2"/>
<line x1="319.06" y1="205" x2="319.06" y2="209.2" stroke="#000" stroke-width="1.2"/>
<line x1="322.30" y1="205" x2="322.30" y2="211.7" stroke="#000" stroke-width="1.8"/>
<text x="321.30" y="229" font-size="18.6" text-anchor="middle" textLength="8.4" lengthAdjust="spacingAndGlyphs" stroke="#000" stroke-width="0.25">4</text>
<text x="73.9" y="251.5" font-size="14" textLength="28.6" lengthAdjust="spacingAndGlyphs" fill="#555">Neg.</text>
<text x="178.6" y="253.3" font-size="18" textLength="38.1" lengthAdjust="spacingAndGlyphs">ROS</text>
<text x="293.8" y="251.9" font-size="14" textLength="28.1" lengthAdjust="spacingAndGlyphs" fill="#555">Pos.</text>
<line x1="72.5" y1="62.7" x2="323" y2="62.7" stroke="#000" stroke-width="2"/>
<line x1="323" y1="61.7" x2="323" y2="205" stroke="#000" stroke-width="2.6"/>
<line x1="72.5" y1="61.7" x2="72.5" y2="206" stroke="#000" stroke-width="1.6"/>
<line x1="71.7" y1="204.6" x2="324.3" y2="204.6" stroke="#000" stroke-width="3"/>
</g>
<g transform="translate(352.5,287.5)">
<text x="138.2" y="56" font-size="19.2" textLength="119.7" lengthAdjust="spacingAndGlyphs">ROS PROFILE</text>
<text transform="translate(21.1,131.6) rotate(-90)" font-size="18.6" text-anchor="middle" textLength="50" lengthAdjust="spacingAndGlyphs">Count</text>
<line x1="67" y1="203.90" x2="72.5" y2="203.90" stroke="#000" stroke-width="1.3"/>
<line x1="69" y1="196.91" x2="72.5" y2="196.91" stroke="#000" stroke-width="1.1"/>
<text transform="translate(70.3,209.10) scale(0.81,1)" font-size="18.6" text-anchor="end" letter-spacing="3.86" stroke="#000" stroke-width="0.3">0</text>
<line x1="67" y1="189.92" x2="72.5" y2="189.92" stroke="#000" stroke-width="1.3"/>
<line x1="69" y1="182.93" x2="72.5" y2="182.93" stroke="#000" stroke-width="1.1"/>
<polygon points="54.91,195.12 53.59,195.12 53.59,184.70 50.12,187.25 50.12,185.67 53.96,181.80 54.91,181.80" fill="#000" stroke="#000" stroke-width="0.3" stroke-linejoin="round"/>
<text transform="translate(70.3,195.12) scale(0.81,1)" font-size="18.6" text-anchor="end" letter-spacing="3.86" stroke="#000" stroke-width="0.3">0</text>
<line x1="67" y1="175.94" x2="72.5" y2="175.94" stroke="#000" stroke-width="1.3"/>
<line x1="69" y1="168.95" x2="72.5" y2="168.95" stroke="#000" stroke-width="1.1"/>
<text transform="translate(70.3,181.14) scale(0.81,1)" font-size="18.6" text-anchor="end" letter-spacing="3.86" stroke="#000" stroke-width="0.3">20</text>
<line x1="67" y1="161.96" x2="72.5" y2="161.96" stroke="#000" stroke-width="1.3"/>
<line x1="69" y1="154.97" x2="72.5" y2="154.97" stroke="#000" stroke-width="1.1"/>
<text transform="translate(70.3,167.16) scale(0.81,1)" font-size="18.6" text-anchor="end" letter-spacing="3.86" stroke="#000" stroke-width="0.3">30</text>
<line x1="67" y1="147.98" x2="72.5" y2="147.98" stroke="#000" stroke-width="1.3"/>
<line x1="69" y1="140.99" x2="72.5" y2="140.99" stroke="#000" stroke-width="1.1"/>
<text transform="translate(70.3,153.18) scale(0.81,1)" font-size="18.6" text-anchor="end" letter-spacing="3.86" stroke="#000" stroke-width="0.3">40</text>
<line x1="67" y1="134.00" x2="72.5" y2="134.00" stroke="#000" stroke-width="1.3"/>
<line x1="69" y1="127.01" x2="72.5" y2="127.01" stroke="#000" stroke-width="1.1"/>
<text transform="translate(70.3,139.20) scale(0.81,1)" font-size="18.6" text-anchor="end" letter-spacing="3.86" stroke="#000" stroke-width="0.3">50</text>
<line x1="67" y1="120.02" x2="72.5" y2="120.02" stroke="#000" stroke-width="1.3"/>
<line x1="69" y1="113.03" x2="72.5" y2="113.03" stroke="#000" stroke-width="1.1"/>
<text transform="translate(70.3,125.22) scale(0.81,1)" font-size="18.6" text-anchor="end" letter-spacing="3.86" stroke="#000" stroke-width="0.3">60</text>
<line x1="67" y1="106.04" x2="72.5" y2="106.04" stroke="#000" stroke-width="1.3"/>
<line x1="69" y1="99.05" x2="72.5" y2="99.05" stroke="#000" stroke-width="1.1"/>
<text transform="translate(70.3,111.24) scale(0.81,1)" font-size="18.6" text-anchor="end" letter-spacing="3.86" stroke="#000" stroke-width="0.3">70</text>
<line x1="67" y1="92.06" x2="72.5" y2="92.06" stroke="#000" stroke-width="1.3"/>
<line x1="69" y1="85.07" x2="72.5" y2="85.07" stroke="#000" stroke-width="1.1"/>
<text transform="translate(70.3,97.26) scale(0.81,1)" font-size="18.6" text-anchor="end" letter-spacing="3.86" stroke="#000" stroke-width="0.3">80</text>
<line x1="67" y1="78.08" x2="72.5" y2="78.08" stroke="#000" stroke-width="1.3"/>
<line x1="69" y1="71.09" x2="72.5" y2="71.09" stroke="#000" stroke-width="1.1"/>
<text transform="translate(70.3,83.28) scale(0.81,1)" font-size="18.6" text-anchor="end" letter-spacing="3.86" stroke="#000" stroke-width="0.3">90</text>
<line x1="67" y1="64.10" x2="72.5" y2="64.10" stroke="#000" stroke-width="1.3"/>
<polygon points="43.41,69.30 42.08,69.30 42.08,58.88 38.62,61.43 38.62,59.85 42.46,55.98 43.41,55.98" fill="#000" stroke="#000" stroke-width="0.3" stroke-linejoin="round"/>
<text transform="translate(70.3,69.30) scale(0.81,1)" font-size="18.6" text-anchor="end" letter-spacing="3.86" stroke="#000" stroke-width="0.3">00</text>
<line x1="73.70" y1="205" x2="73.70" y2="211.7" stroke="#000" stroke-width="1.8"/>
<text x="72.70" y="229" font-size="18.6" text-anchor="middle" textLength="8.4" lengthAdjust="spacingAndGlyphs" stroke="#000" stroke-width="0.25">0</text>
<line x1="92.01" y1="205" x2="92.01" y2="209.2" stroke="#000" stroke-width="1.2"/>
<line x1="102.95" y1="205" x2="102.95" y2="209.2" stroke="#000" stroke-width="1.2"/>
<line x1="110.72" y1="205" x2="110.72" y2="209.2" stroke="#000" stroke-width="1.2"/>
<line x1="116.74" y1="205" x2="116.74" y2="209.2" stroke="#000" stroke-width="1.2"/>
<line x1="121.66" y1="205" x2="121.66" y2="209.2" stroke="#000" stroke-width="1.2"/>
<line x1="125.82" y1="205" x2="125.82" y2="209.2" stroke="#000" stroke-width="1.2"/>
<line x1="129.43" y1="205" x2="129.43" y2="209.2" stroke="#000" stroke-width="1.2"/>
<line x1="132.61" y1="205" x2="132.61" y2="209.2" stroke="#000" stroke-width="1.2"/>
<line x1="135.85" y1="205" x2="135.85" y2="211.7" stroke="#000" stroke-width="1.8"/>
<polygon points="136.47,229.00 135.14,229.00 135.14,218.58 131.68,221.13 131.68,219.55 135.52,215.68 136.47,215.68" fill="#000" stroke="#000" stroke-width="0.3" stroke-linejoin="round"/>
<line x1="154.16" y1="205" x2="154.16" y2="209.2" stroke="#000" stroke-width="1.2"/>
<line x1="165.10" y1="205" x2="165.10" y2="209.2" stroke="#000" stroke-width="1.2"/>
<line x1="172.87" y1="205" x2="172.87" y2="209.2" stroke="#000" stroke-width="1.2"/>
<line x1="178.89" y1="205" x2="178.89" y2="209.2" stroke="#000" stroke-width="1.2"/>
<line x1="183.81" y1="205" x2="183.81" y2="209.2" stroke="#000" stroke-width="1.2"/>
<line x1="187.97" y1="205" x2="187.97" y2="209.2" stroke="#000" stroke-width="1.2"/>
<line x1="191.58" y1="205" x2="191.58" y2="209.2" stroke="#000" stroke-width="1.2"/>
<line x1="194.76" y1="205" x2="194.76" y2="209.2" stroke="#000" stroke-width="1.2"/>
<line x1="198.00" y1="205" x2="198.00" y2="211.7" stroke="#000" stroke-width="1.8"/>
<text x="197.00" y="229" font-size="18.6" text-anchor="middle" textLength="8.4" lengthAdjust="spacingAndGlyphs" stroke="#000" stroke-width="0.25">2</text>
<line x1="216.31" y1="205" x2="216.31" y2="209.2" stroke="#000" stroke-width="1.2"/>
<line x1="227.25" y1="205" x2="227.25" y2="209.2" stroke="#000" stroke-width="1.2"/>
<line x1="235.02" y1="205" x2="235.02" y2="209.2" stroke="#000" stroke-width="1.2"/>
<line x1="241.04" y1="205" x2="241.04" y2="209.2" stroke="#000" stroke-width="1.2"/>
<line x1="245.96" y1="205" x2="245.96" y2="209.2" stroke="#000" stroke-width="1.2"/>
<line x1="250.12" y1="205" x2="250.12" y2="209.2" stroke="#000" stroke-width="1.2"/>
<line x1="253.73" y1="205" x2="253.73" y2="209.2" stroke="#000" stroke-width="1.2"/>
<line x1="256.91" y1="205" x2="256.91" y2="209.2" stroke="#000" stroke-width="1.2"/>
<line x1="260.15" y1="205" x2="260.15" y2="211.7" stroke="#000" stroke-width="1.8"/>
<text x="259.15" y="229" font-size="18.6" text-anchor="middle" textLength="8.4" lengthAdjust="spacingAndGlyphs" stroke="#000" stroke-width="0.25">3</text>
<line x1="278.46" y1="205" x2="278.46" y2="209.2" stroke="#000" stroke-width="1.2"/>
<line x1="289.40" y1="205" x2="289.40" y2="209.2" stroke="#000" stroke-width="1.2"/>
<line x1="297.17" y1="205" x2="297.17" y2="209.2" stroke="#000" stroke-width="1.2"/>
<line x1="303.19" y1="205" x2="303.19" y2="209.2" stroke="#000" stroke-width="1.2"/>
<line x1="308.11" y1="205" x2="308.11" y2="209.2" stroke="#000" stroke-width="1.2"/>
<line x1="312.27" y1="205" x2="312.27" y2="209.2" stroke="#000" stroke-width="1.2"/>
<line x1="315.88" y1="205" x2="315.88" y2="209.2" stroke="#000" stroke-width="1.2"/>
<line x1="319.06" y1="205" x2="319.06" y2="209.2" stroke="#000" stroke-width="1.2"/>
<line x1="322.30" y1="205" x2="322.30" y2="211.7" stroke="#000" stroke-width="1.8"/>
<text x="321.30" y="229" font-size="18.6" text-anchor="middle" textLength="8.4" lengthAdjust="spacingAndGlyphs" stroke="#000" stroke-width="0.25">4</text>
<text x="73.9" y="251.5" font-size="14" textLength="28.6" lengthAdjust="spacingAndGlyphs" fill="#555">Neg.</text>
<text x="178.6" y="253.3" font-size="18" textLength="38.1" lengthAdjust="spacingAndGlyphs">ROS</text>
<text x="293.8" y="251.9" font-size="14" textLength="28.1" lengthAdjust="spacingAndGlyphs" fill="#555">Pos.</text>
<line x1="72.5" y1="62.7" x2="323" y2="62.7" stroke="#000" stroke-width="2"/>
<line x1="323" y1="61.7" x2="323" y2="205" stroke="#000" stroke-width="2.6"/>
<line x1="72.5" y1="61.7" x2="72.5" y2="206" stroke="#000" stroke-width="1.6"/>
<line x1="71.7" y1="204.6" x2="324.3" y2="204.6" stroke="#000" stroke-width="3"/>
</g>
<text x="197.7" y="618.6" font-size="21" font-weight="bold" textLength="71.6" lengthAdjust="spacingAndGlyphs" stroke="#000" stroke-width="0.25">ROS (-)</text>
<text x="223.3" y="655.9" font-size="19" textLength="20.6" lengthAdjust="spacingAndGlyphs">ns</text>
<path d="M155.4,679.6V666.7H311.8V679.6" fill="none" stroke="#000" stroke-width="2.4"/>
<text x="249.4" y="703.6" font-size="19" textLength="20.6" lengthAdjust="spacingAndGlyphs">ns</text>
<path d="M207.3,727.3V714.2H311.8V727.3" fill="none" stroke="#000" stroke-width="2.4"/>
<text x="197.70000000000002" y="750.9" font-size="19" textLength="20.6" lengthAdjust="spacingAndGlyphs">ns</text>
<path d="M155.5,775.1V763.3H259.8V775.1" fill="none" stroke="#000" stroke-width="2.4"/>
<path d="M158.7,789.1V798.6999999999999M155.30,791.00L162.10,796.80M155.30,796.80L162.10,791.00" stroke="#000" stroke-width="2.2" stroke-linecap="round"/>
<path d="M177.1,789.1V798.6999999999999M173.70,791.00L180.50,796.80M173.70,796.80L180.50,791.00" stroke="#000" stroke-width="2.2" stroke-linecap="round"/>
<path d="M195.4,789.1V798.6999999999999M192.00,791.00L198.80,796.80M192.00,796.80L198.80,791.00" stroke="#000" stroke-width="2.2" stroke-linecap="round"/>
<text x="223.10000000000002" y="798.8" font-size="19" textLength="20.6" lengthAdjust="spacingAndGlyphs">ns</text>
<text x="277.8" y="798.8" font-size="19" textLength="20.6" lengthAdjust="spacingAndGlyphs">ns</text>
<path d="M155.5,823.2V810H202.8V823.2" fill="none" stroke="#000" stroke-width="2.4"/>
<path d="M212,823.2V810H254.8V823.2" fill="none" stroke="#000" stroke-width="2.4"/>
<path d="M263.8,823.2V810H311.8V823.2" fill="none" stroke="#000" stroke-width="2.4"/>
<line x1="120.5" y1="759.3" x2="120.5" y2="987.3" stroke="#000" stroke-width="2.5"/>
<line x1="111" y1="986.2" x2="347.7" y2="986.2" stroke="#000" stroke-width="2.5"/>
<line x1="111.5" y1="761.2" x2="121" y2="761.2" stroke="#000" stroke-width="2.5"/>
<polygon points="86,767.2 83.1,767.2 83.1,758.7 80.1,760.5 80.1,757.5 83.5,754.4 86,754.4" fill="#000"/>
<text x="108.8" y="767.2" font-size="17.8" text-anchor="end" font-weight="bold">50</text>
<line x1="111.5" y1="836.2" x2="121" y2="836.2" stroke="#000" stroke-width="2.5"/>
<polygon points="86,842.2 83.1,842.2 83.1,833.7 80.1,835.5 80.1,832.5 83.5,829.4 86,829.4" fill="#000"/>
<text x="108.8" y="842.2" font-size="17.8" text-anchor="end" font-weight="bold">00</text>
<line x1="111.5" y1="911.2" x2="121" y2="911.2" stroke="#000" stroke-width="2.5"/>
<text x="108.8" y="917.2" font-size="17.8" text-anchor="end" font-weight="bold">50</text>
<text x="109.6" y="992.6" font-size="17.8" text-anchor="end" font-weight="bold">0</text>
<text transform="translate(68.9,874) rotate(-90)" font-size="19.6" font-weight="bold" text-anchor="middle" textLength="114.5" lengthAdjust="spacingAndGlyphs">Cell ratio [%]</text>
<rect x="139.8" y="841.0" width="31.599999999999994" height="145.20000000000005" fill="#f0b67f" stroke="#000" stroke-width="3"/>
<rect x="191.7" y="915.5" width="31.600000000000023" height="70.70000000000005" fill="#f0197d" stroke="#000" stroke-width="3"/>
<rect x="244.2" y="874.8" width="31.0" height="111.40000000000009" fill="#5a5af5" stroke="#000" stroke-width="3"/>
<rect x="296.4" y="864.4" width="31.600000000000023" height="121.80000000000007" fill="#00be00" stroke="#000" stroke-width="3"/>
<line x1="207.3" y1="900" x2="207.3" y2="914" stroke="#000" stroke-width="1.8"/><line x1="199.0" y1="900" x2="215.60000000000002" y2="900" stroke="#000" stroke-width="1.8"/>
<line x1="259.4" y1="855.2" x2="259.4" y2="873.3" stroke="#000" stroke-width="1.8"/><line x1="250.79999999999998" y1="855.2" x2="268.0" y2="855.2" stroke="#000" stroke-width="1.8"/>
<line x1="311.6" y1="851.1" x2="311.6" y2="862.9" stroke="#000" stroke-width="1.8"/><line x1="303.0" y1="851.1" x2="320.20000000000005" y2="851.1" stroke="#000" stroke-width="1.8"/>
<circle cx="140.3" cy="840.3" r="4.5" fill="#000"/>
<circle cx="146.6" cy="836.6" r="4.5" fill="#000"/>
<circle cx="151.6" cy="839.1" r="4.5" fill="#000"/>
<circle cx="157.5" cy="836.6" r="4.5" fill="#000"/>
<circle cx="163.3" cy="844.1" r="4.5" fill="#000"/>
<circle cx="169.6" cy="837.5" r="4.5" fill="#000"/>
<circle cx="207.4" cy="889.6" r="4.5" fill="#000"/>
<circle cx="200.2" cy="908.2" r="4.5" fill="#000"/>
<circle cx="214.5" cy="911.5" r="4.5" fill="#000"/>
<circle cx="207.4" cy="921.8" r="4.5" fill="#000"/>
<circle cx="221.2" cy="921.8" r="4.5" fill="#000"/>
<circle cx="193.6" cy="926.5" r="4.5" fill="#000"/>
<circle cx="245.7" cy="864" r="4.5" fill="#000"/>
<circle cx="259.4" cy="859.2" r="4.5" fill="#000"/>
<circle cx="259.4" cy="869.6" r="4.5" fill="#000"/>
<circle cx="273.8" cy="867.4" r="4.5" fill="#000"/>
<circle cx="259.4" cy="903.3" r="4.5" fill="#000"/>
<circle cx="297.9" cy="858.5" r="4.5" fill="#000"/>
<circle cx="311.6" cy="854.1" r="4.5" fill="#000"/>
<circle cx="325.5" cy="851.1" r="4.5" fill="#000"/>
<circle cx="325.5" cy="858.9" r="4.5" fill="#000"/>
<circle cx="304.5" cy="877.7" r="4.5" fill="#000"/>
<circle cx="318.6" cy="877" r="4.5" fill="#000"/>
<line x1="155" y1="987" x2="155" y2="995.5" stroke="#000" stroke-width="2.2"/>
<line x1="207.3" y1="987" x2="207.3" y2="995.5" stroke="#000" stroke-width="2.2"/>
<line x1="259.4" y1="987" x2="259.4" y2="995.5" stroke="#000" stroke-width="2.2"/>
<line x1="311.4" y1="987" x2="311.4" y2="995.5" stroke="#000" stroke-width="2.2"/>
<text transform="translate(167.5,1008.5) rotate(-42)" font-size="18.8" font-weight="bold" text-anchor="end" textLength="41" lengthAdjust="spacingAndGlyphs" stroke="#000" stroke-width="0.45">CTRL</text>
<text transform="translate(213,1013) rotate(-42)" font-size="18.8" font-weight="bold" text-anchor="end" textLength="22" lengthAdjust="spacingAndGlyphs" stroke="#000" stroke-width="0.45">OS</text>
<text transform="translate(266.3,1011) rotate(-42)" font-size="18.8" font-weight="bold" text-anchor="end" textLength="107.5" lengthAdjust="spacingAndGlyphs" stroke="#000" stroke-width="0.45">OS + ASTA10</text>
<text transform="translate(318.8,1011) rotate(-42)" font-size="18.8" font-weight="bold" text-anchor="end" textLength="107.5" lengthAdjust="spacingAndGlyphs" stroke="#000" stroke-width="0.45">OS + ASTA20</text>
<text x="538.2" y="616.8" font-size="21" font-weight="bold" textLength="72.8" lengthAdjust="spacingAndGlyphs" stroke="#000" stroke-width="0.25">ROS (+)</text>
<text x="564.5" y="652.8" font-size="19" textLength="20.6" lengthAdjust="spacingAndGlyphs">ns</text>
<path d="M499.2,675.9V664H650.1V675.9" fill="none" stroke="#000" stroke-width="2.4"/>
<text x="590.0999999999999" y="699" font-size="19" textLength="20.6" lengthAdjust="spacingAndGlyphs">ns</text>
<path d="M549.1,721.8V709.9H650.1V721.8" fill="none" stroke="#000" stroke-width="2.4"/>
<text x="539.6999999999999" y="744.9" font-size="19" textLength="20.6" lengthAdjust="spacingAndGlyphs">ns</text>
<path d="M499.2,767.8V756.1H599.7V767.8" fill="none" stroke="#000" stroke-width="2.4"/>
<path d="M502.2,780.976V789.4240000000001M499.21,782.65L505.19,787.75M499.21,787.75L505.19,782.65" stroke="#000" stroke-width="2.2" stroke-linecap="round"/>
<path d="M520.1,780.976V789.4240000000001M517.11,782.65L523.09,787.75M517.11,787.75L523.09,782.65" stroke="#000" stroke-width="2.2" stroke-linecap="round"/>
<path d="M537.8,780.976V789.4240000000001M534.81,782.65L540.79,787.75M534.81,787.75L540.79,782.65" stroke="#000" stroke-width="2.2" stroke-linecap="round"/>
<text x="564.5" y="791.3" font-size="19" textLength="20.6" lengthAdjust="spacingAndGlyphs">ns</text>
<text x="616.5999999999999" y="791.3" font-size="19" textLength="20.6" lengthAdjust="spacingAndGlyphs">ns</text>
<path d="M499.2,814.2V801.3H545.1V814.2" fill="none" stroke="#000" stroke-width="2.4"/>
<path d="M553.3,814.2V801.3H595.5V814.2" fill="none" stroke="#000" stroke-width="2.4"/>
<path d="M604.2,814.2V801.3H650.1V814.2" fill="none" stroke="#000" stroke-width="2.4"/>
<line x1="466.6" y1="773.5" x2="466.6" y2="993.2" stroke="#000" stroke-width="2.6"/>
<line x1="457.2" y1="992" x2="684" y2="992" stroke="#000" stroke-width="2.5"/>
<line x1="457.2" y1="774.6" x2="467" y2="774.6" stroke="#000" stroke-width="2.5"/>
<text x="455.2" y="780.6" font-size="17.8" text-anchor="end" font-weight="bold">80</text>
<line x1="457.2" y1="829.0" x2="467" y2="829.0" stroke="#000" stroke-width="2.5"/>
<text x="455.2" y="835.0" font-size="17.8" text-anchor="end" font-weight="bold">60</text>
<line x1="457.2" y1="883.3" x2="467" y2="883.3" stroke="#000" stroke-width="2.5"/>
<text x="455.2" y="889.3" font-size="17.8" text-anchor="end" font-weight="bold">40</text>
<line x1="457.2" y1="937.7" x2="467" y2="937.7" stroke="#000" stroke-width="2.5"/>
<text x="455.2" y="943.7" font-size="17.8" text-anchor="end" font-weight="bold">20</text>
<text x="455.2" y="998" font-size="17.8" text-anchor="end" font-weight="bold">0</text>
<text transform="translate(425.2,883.3) rotate(-90)" font-size="19.6" font-weight="bold" text-anchor="middle" textLength="110.6" lengthAdjust="spacingAndGlyphs">Cell ratio [%]</text>
<rect x="485.0" y="988.0" width="29.5" height="4.0" fill="#f0b67f" stroke="#000" stroke-width="3"/>
<rect x="534.7" y="854.0" width="29.699999999999932" height="138.0" fill="#f0197d" stroke="#000" stroke-width="3"/>
<rect x="584.9" y="927.6" width="29.700000000000045" height="64.39999999999998" fill="#5a5af5" stroke="#000" stroke-width="3"/>
<rect x="635.1" y="945.8" width="29.699999999999932" height="46.200000000000045" fill="#00be00" stroke="#000" stroke-width="3"/>
<line x1="549.1" y1="827" x2="549.1" y2="852.5" stroke="#000" stroke-width="1.8"/><line x1="540.9" y1="827" x2="557.3000000000001" y2="827" stroke="#000" stroke-width="1.8"/>
<line x1="599.3" y1="893.4" x2="599.3" y2="926.1" stroke="#000" stroke-width="1.8"/><line x1="591.0999999999999" y1="893.4" x2="607.5" y2="893.4" stroke="#000" stroke-width="1.8"/>
<line x1="650" y1="922.6" x2="650" y2="944.3" stroke="#000" stroke-width="1.8"/><line x1="642" y1="922.6" x2="658" y2="922.6" stroke="#000" stroke-width="1.8"/>
<line x1="499.3" y1="984" x2="499.3" y2="986.5" stroke="#000" stroke-width="1.8"/><line x1="495.3" y1="984" x2="503.3" y2="984" stroke="#000" stroke-width="1.8"/>
<circle cx="486" cy="988.9" r="4.5" fill="#000"/>
<circle cx="492.3" cy="984.2" r="4.5" fill="#000"/>
<circle cx="499.3" cy="987.8" r="4.5" fill="#000"/>
<circle cx="506.3" cy="978.4" r="4.5" fill="#000"/>
<circle cx="506.3" cy="988.9" r="4.5" fill="#000"/>
<circle cx="512.8" cy="990.1" r="4.5" fill="#000"/>
<circle cx="549.1" cy="828.2" r="4.5" fill="#000"/>
<circle cx="542.5" cy="836.4" r="4.5" fill="#000"/>
<circle cx="555.4" cy="836.4" r="4.5" fill="#000"/>
<circle cx="549.1" cy="854.4" r="4.5" fill="#000"/>
<circle cx="549.1" cy="861.9" r="4.5" fill="#000"/>
<circle cx="549.1" cy="896" r="4.5" fill="#000"/>
<circle cx="599.3" cy="870.3" r="4.5" fill="#000"/>
<circle cx="592.7" cy="935" r="4.5" fill="#000"/>
<circle cx="606" cy="931" r="4.5" fill="#000"/>
<circle cx="606" cy="942" r="4.5" fill="#000"/>
<circle cx="599.3" cy="949.7" r="4.5" fill="#000"/>
<circle cx="643" cy="917.9" r="4.5" fill="#000"/>
<circle cx="656.3" cy="916.5" r="4.5" fill="#000"/>
<circle cx="643" cy="951.3" r="4.5" fill="#000"/>
<circle cx="656.3" cy="951.3" r="4.5" fill="#000"/>
<circle cx="656.3" cy="959.5" r="4.5" fill="#000"/>
<circle cx="643" cy="964.6" r="4.5" fill="#000"/>
<line x1="499.3" y1="993" x2="499.3" y2="999.5" stroke="#000" stroke-width="2.2"/>
<line x1="549.1" y1="993" x2="549.1" y2="999.5" stroke="#000" stroke-width="2.2"/>
<line x1="599.3" y1="993" x2="599.3" y2="999.5" stroke="#000" stroke-width="2.2"/>
<line x1="650" y1="993" x2="650" y2="999.5" stroke="#000" stroke-width="2.2"/>
<text transform="translate(505.5,1009.7) rotate(-42)" font-size="18.8" font-weight="bold" text-anchor="end" textLength="41" lengthAdjust="spacingAndGlyphs" stroke="#000" stroke-width="0.45">CTRL</text>
<text transform="translate(550.3,1014.7) rotate(-42)" font-size="18.8" font-weight="bold" text-anchor="end" textLength="22" lengthAdjust="spacingAndGlyphs" stroke="#000" stroke-width="0.45">OS</text>
<text transform="translate(604.3,1012.5) rotate(-42)" font-size="18.8" font-weight="bold" text-anchor="end" textLength="107.5" lengthAdjust="spacingAndGlyphs" stroke="#000" stroke-width="0.45">OS + ASTA10</text>
<text transform="translate(656.6,1012.5) rotate(-42)" font-size="18.8" font-weight="bold" text-anchor="end" textLength="107.5" lengthAdjust="spacingAndGlyphs" stroke="#000" stroke-width="0.45">OS + ASTA20</text>
</svg></body></html>
